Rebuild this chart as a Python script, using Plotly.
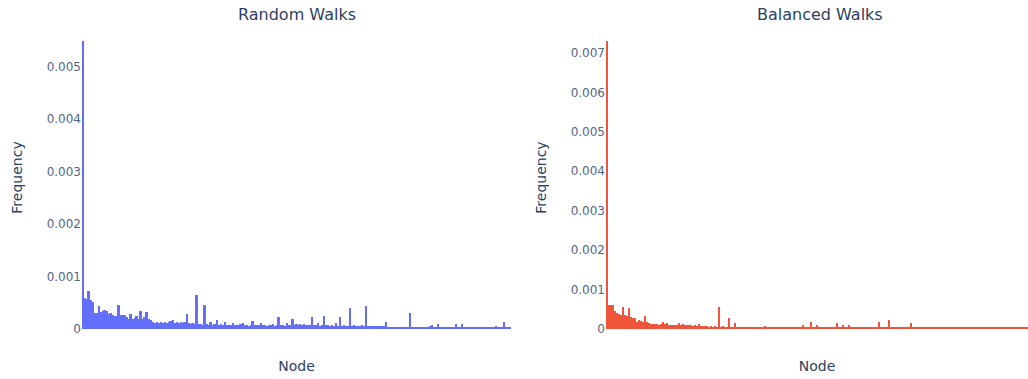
import plotly.graph_objects as go
from plotly.subplots import make_subplots

# Visit frequency per node, stored in units of 1e-5
random_walks_e5 = [
    549, 60, 58, 73, 55, 52, 31, 30, 44, 32, 35, 36, 34, 28, 30, 26, 25, 24, 45, 27,
    26, 27, 22, 20, 28, 19, 21, 24, 20, 35, 19, 22, 32, 20, 17, 14, 12, 13, 11, 13,
    12, 14, 12, 13, 15, 17, 12, 13, 12, 14, 11, 13, 29, 12, 10, 11, 9, 65, 10, 9,
    8, 46, 9, 8, 14, 8, 9, 17, 8, 9, 7, 14, 8, 7, 8, 11, 7, 8, 7, 9,
    11, 7, 8, 6, 8, 16, 7, 8, 7, 12, 7, 8, 6, 7, 8, 10, 6, 7, 22, 7,
    8, 6, 12, 7, 8, 20, 7, 10, 8, 9, 7, 10, 8, 7, 8, 23, 7, 8, 11, 6,
    7, 25, 7, 8, 6, 7, 6, 11, 6, 23, 6, 7, 6, 6, 40, 6, 7, 5, 6, 5,
    7, 6, 44, 5, 6, 5, 6, 5, 5, 6, 5, 6, 13, 4, 4, 4, 4, 4, 4, 4,
    4, 4, 4, 4, 30, 4, 4, 4, 4, 4, 4, 4, 4, 4, 5, 7, 4, 4, 10, 4,
    4, 4, 4, 4, 4, 4, 4, 10, 4, 4, 10, 4, 4, 3, 3, 3, 3, 3, 3, 3,
    3, 3, 3, 3, 3, 3, 4, 6, 3, 4, 3, 14, 3, 4, 3,
]

balanced_walks_e5 = [
    730, 62, 60, 62, 45, 40, 38, 36, 57, 35, 32, 53, 30, 27, 28, 19, 24, 20, 18, 32,
    17, 14, 13, 13, 12, 12, 11, 13, 17, 12, 14, 11, 11, 10, 10, 9, 14, 10, 13, 9,
    10, 9, 9, 8, 9, 8, 12, 8, 8, 7, 7, 6, 8, 6, 7, 6, 56, 6, 7, 6,
    6, 28, 6, 6, 15, 6, 6, 5, 5, 6, 6, 5, 5, 6, 5, 6, 5, 5, 6, 7,
    5, 6, 5, 5, 6, 5, 5, 6, 5, 5, 6, 5, 5, 6, 5, 5, 6, 5, 10, 5,
    5, 6, 17, 5, 5, 9, 5, 5, 6, 5, 5, 5, 5, 5, 6, 15, 5, 5, 9, 5,
    5, 9, 5, 5, 5, 5, 5, 5, 5, 5, 5, 5, 5, 5, 5, 6, 17, 5, 5, 5,
    5, 24, 5, 5, 5, 5, 5, 5, 5, 5, 5, 5, 15, 3, 3, 3, 3, 3, 3, 3,
    3, 3, 3, 3, 4, 3, 3, 3, 3, 3, 3, 3, 3, 3, 3, 3, 3, 3, 3, 3,
    3, 3, 3, 3, 3, 3, 3, 3, 3, 3, 3, 3, 3, 3, 3, 3, 3, 3, 3, 3,
    3, 3, 3, 3, 3, 3, 3, 4, 3, 3, 3,
]

random_freq = [v * 1e-5 for v in random_walks_e5]
balanced_freq = [v * 1e-5 for v in balanced_walks_e5]
random_nodes = list(range(len(random_freq)))
balanced_nodes = list(range(len(balanced_freq)))

FONT = "DejaVu Sans"

fig = make_subplots(
    rows=1, cols=2,
    subplot_titles=("Random Walks", "Balanced Walks"),
    column_widths=[429, 422],
    horizontal_spacing=0.1004,
)

fig.add_trace(
    go.Bar(x=random_nodes, y=random_freq, marker=dict(color="#636efa", line=dict(width=0)),
           showlegend=False),
    row=1, col=1,
)
fig.add_trace(
    go.Bar(x=balanced_nodes, y=balanced_freq, marker=dict(color="#EF553B", line=dict(width=0)),
           showlegend=False),
    row=1, col=2,
)

fig.update_xaxes(title_text="Node", title_standoff=32, showticklabels=False,
                 showgrid=False, zeroline=False)
fig.update_yaxes(title_text="Frequency", title_standoff=20, showgrid=False, zeroline=False,
                 tickfont=dict(color="#506784"))

fig.update_annotations(font=dict(family=FONT, size=16, color="#2a3f5f"))
fig.layout.annotations[1].x = 0.780

fig.update_layout(
    template="plotly_white",
    font=dict(family=FONT, color="#2a3f5f"),
    width=1028,
    height=379,
    margin=dict(l=82, r=0, t=26, b=50),
    bargap=0,
    plot_bgcolor="white",
    paper_bgcolor="white",
)

fig.write_html("out.html")
